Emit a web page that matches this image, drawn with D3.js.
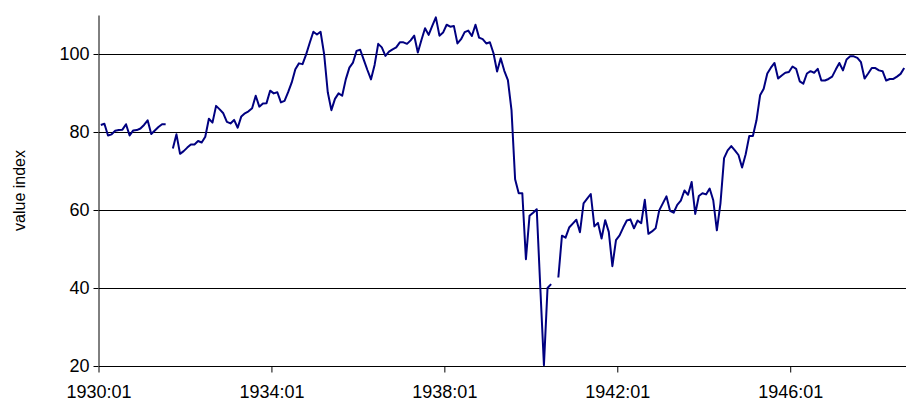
<!DOCTYPE html>
<html>
<head>
<meta charset="utf-8">
<script src="https://cdn.jsdelivr.net/npm/d3@7"></script>
<style>
  body { margin: 0; background: #fff; }
  text { font-family: "Liberation Sans", Arial, sans-serif; }
</style>
</head>
<body>
<svg width="906" height="405"></svg>
<script>
// monthly index, 1930:01 .. 1948:08 (null = no quote)
var startYear = 1930;
var values = [
  81.8, 82.1, 79.1, 79.4, 80.3, 80.5, 80.6, 82.0, 79.1, 80.4, 80.5, 80.9,
  81.8, 83.0, 79.5, 80.4, 81.3, 82.0, 82.0, null, 75.8, 79.4, 74.4, 75.1,
  76.0, 76.8, 76.8, 77.7, 77.3, 78.8, 83.4, 82.4, 86.7, 85.8, 84.8, 82.6,
  82.2, 83.1, 81.1, 84.0, 84.8, 85.3, 86.1, 89.3, 86.5, 87.3, 87.4, 90.6,
  89.9, 90.2, 87.6, 88.0, 90.2, 92.7, 96.1, 97.6, 97.4, 99.9, 102.9, 105.7,
  105.0, 105.7, 99.9, 90.2, 85.6, 88.5, 89.9, 89.3, 93.5, 96.5, 97.8, 100.8,
  101.1, 98.5, 95.9, 93.5, 97.2, 102.6, 101.7, 99.5, 100.6, 101.2, 101.7, 103.0,
  103.0, 102.6, 103.5, 104.7, 100.4, 103.6, 106.6, 104.9, 107.2, 109.4, 104.7, 105.5,
  107.5, 107.0, 107.2, 102.7, 103.8, 105.6, 106.0, 104.6, 107.5, 104.2, 103.8, 102.7,
  103.0, 100.2, 95.5, 98.9, 95.7, 93.3, 85.6, 67.9, 64.3, 64.3, 47.4, 58.5,
  59.3, 60.2, 40.0, 20.2, 40.0, 41.0, null, 42.7, 53.4, 52.9, 55.5, 56.5,
  57.5, 54.3, 61.7, 62.9, 64.1, 55.8, 56.7, 52.7, 57.4, 54.4, 45.6, 52.3,
  53.5, 55.5, 57.3, 57.6, 55.3, 57.3, 56.6, 62.6, 53.9, 54.5, 55.3, 59.9,
  61.7, 63.5, 59.8, 59.3, 61.3, 62.4, 65.0, 63.9, 67.2, 59.0, 63.6, 64.3,
  64.0, 65.5, 62.5, 54.8, 61.7, 73.3, 75.3, 76.4, 75.3, 74.1, 70.9, 74.3,
  79.0, 79.0, 83.0, 89.4, 91.1, 95.0, 96.5, 97.7, 93.7, 94.5, 95.2, 95.4,
  96.8, 96.2, 93.0, 92.4, 95.0, 95.6, 95.2, 96.2, 93.2, 93.2, 93.6, 94.2,
  96.0, 97.7, 95.8, 98.6, 99.4, 99.4, 99.0, 97.9, 93.7, 95.0, 96.4, 96.4,
  95.8, 95.6, 93.2, 93.6, 93.6, 94.2, 94.9, 96.4
];
var yTicks = [20, 40, 60, 80, 100];
var gridValues = [40, 60, 80, 100];
var xTickLabels = ["1930:01", "1934:01", "1938:01", "1942:01", "1946:01"];

var months = values.map(function(v, i) {
  return (startYear + Math.floor(i / 12)) + ":" + d3.format("02")(i % 12 + 1);
});

var svg = d3.select("svg"),
    plotLeft = 99, plotRight = 906, plotTop = 15, plotBottom = 366;

var x = d3.scaleBand().domain(months).range([plotLeft, plotRight]);
var y = d3.scaleLinear().domain([20, 110]).range([plotBottom, plotTop]);

// grid lines (the one at 20 is the x axis line)
svg.append("g").selectAll("line")
  .data(gridValues.concat([20]))
  .enter().append("line")
  .attr("x1", plotLeft).attr("x2", plotRight)
  .attr("y1", function(d) { return Math.round(y(d)) + 0.5; })
  .attr("y2", function(d) { return Math.round(y(d)) + 0.5; })
  .attr("stroke", "#000").attr("stroke-width", 1);

// x axis: ticks on the category boundaries
var xAxis = svg.append("g")
  .attr("transform", "translate(" + (-x.bandwidth() / 2) + "," + (Math.round(y(20)) + 0.5) + ")")
  .call(d3.axisBottom(x).tickValues(xTickLabels).tickSize(6).tickSizeOuter(0).tickPadding(13));
xAxis.select(".domain").remove();
xAxis.selectAll("text").style("font-size", "18px").attr("fill", "#000");

// y axis
var yAxis = svg.append("g")
  .attr("transform", "translate(" + (plotLeft - 0.5) + ",0)")
  .call(d3.axisLeft(y).tickValues(yTicks).tickSize(5).tickSizeOuter(0).tickPadding(4));
yAxis.selectAll("text").style("font-size", "18px").attr("fill", "#000");

svg.append("text")
  .attr("transform", "translate(25," + ((plotTop + plotBottom) / 2) + ") rotate(-90)")
  .attr("text-anchor", "middle")
  .style("font-size", "16px")
  .text("value index");

var line = d3.line()
  .defined(function(d) { return d != null; })
  .x(function(d, i) { return x(months[i]) + x.bandwidth() / 2; })
  .y(function(d) { return y(d); });

svg.append("path")
  .datum(values)
  .attr("fill", "none")
  .attr("stroke", "#000080")
  .attr("stroke-width", 2)
  .attr("stroke-linejoin", "round")
  .attr("d", line);
</script>
</body>
</html>
